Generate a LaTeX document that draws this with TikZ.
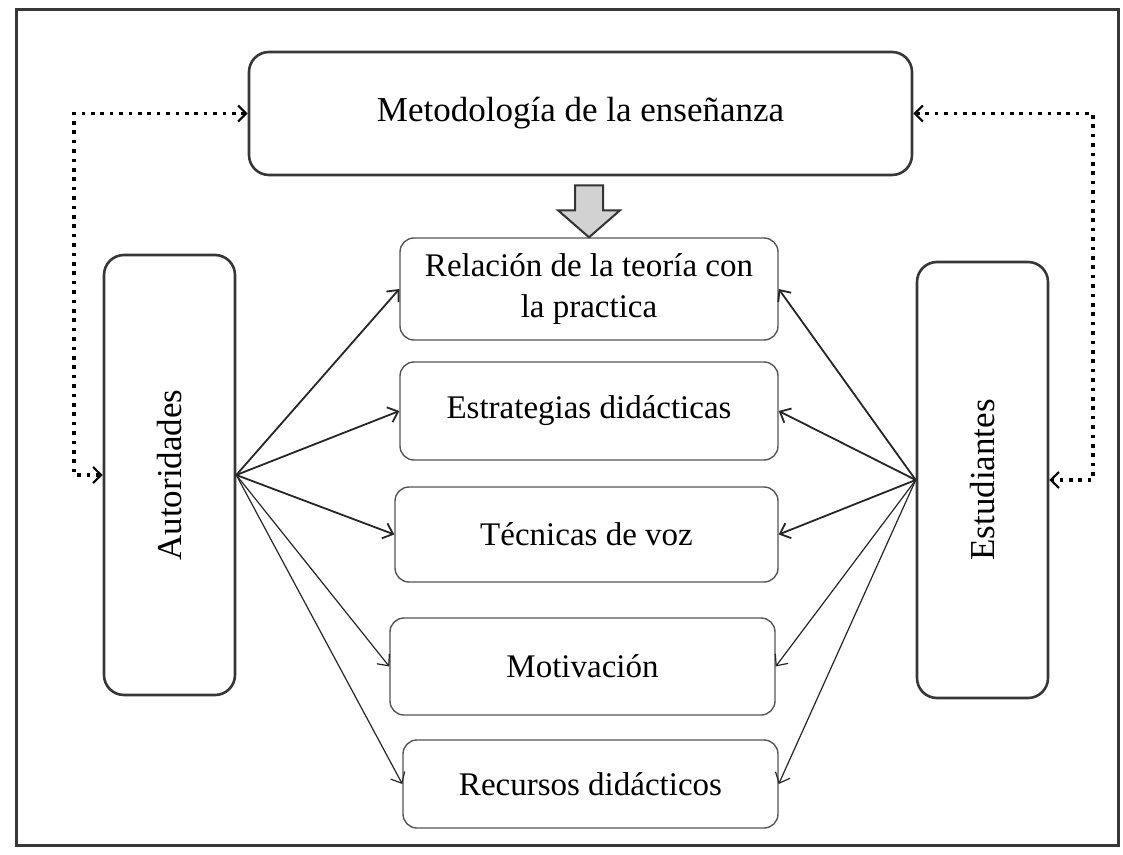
\documentclass[tikz,border=0pt]{standalone}
\usepackage{fontspec}
\setmainfont{Liberation Serif}
\usetikzlibrary{arrows.meta,positioning,calc}
\definecolor{boxgray}{RGB}{55,55,55}

\begin{document}
\begin{tikzpicture}[x=0.5pt, y=-0.5pt, >={Straight Barb[length=4.5pt,width=8pt]},
	mainbox/.style={draw=boxgray, line width=1.3pt, rounded corners=10pt, align=center, inner sep=0pt},
	itembox/.style={draw=boxgray!85, line width=0.7pt, rounded corners=7pt, align=center, inner sep=0pt, font=\fontsize{16.5}{20.5}\selectfont},
	linkLine/.style={line width=0.9pt, ->, color=black!85},
	dotLine/.style={line width=1.6pt, dash pattern=on 1.8pt off 2.9pt, {Straight Barb[length=4pt,width=8pt,line width=1.1pt]}-{Straight Barb[length=4pt,width=8pt,line width=1.1pt]}},
	blockArrow/.style={draw=black!80, line width=1pt, fill=gray!35, line join=miter}
	]
	\useasboundingbox (0,0) rectangle (1123,855);
	\draw[line width=1.5pt, boxgray] (16,10) rectangle (1118,845);

	\node[mainbox, minimum width=331.5pt, minimum height=61.5pt, font=\fontsize{17.5}{21}\selectfont] (meto) at (580.5,113.5) {Metodología de la enseñanza};
	\node[mainbox, minimum width=65.5pt, minimum height=220pt] (aut) at (169.5,475) {};
	\node[rotate=90, font=\fontsize{17.5}{21}\selectfont] (autT) at (aut.center) {Autoridades};
	\node[mainbox, minimum width=65.5pt, minimum height=218pt] (est) at (982.5,480) {};
	\node[rotate=90, font=\fontsize{17.5}{21}\selectfont] (estT) at (est.center) {Estudiantes};

	\node[itembox, minimum width=189pt, minimum height=51pt] (rel) at (589,289) {Relación de la teoría con\\la practica};
	\node[itembox, minimum width=189pt, minimum height=49pt] (estr) at (589,411) {Estrategias didácticas};
	\node[itembox, minimum width=191.5pt, minimum height=47.5pt] (tec) at (586.5,534.5) {Técnicas de voz};
	\node[itembox, minimum width=192.5pt, minimum height=48.5pt] (mot) at (582.5,666.5) {Motivación};
	\node[itembox, minimum width=187.5pt, minimum height=44pt] (rec) at (590.5,784) {Recursos didácticos};

	\draw[blockArrow] (rel.north) -- ++(-31,-27) -- ++(17,0) -- ++(0,-25) -- ++(28,0) -- ++(0,25) -- ++(17,0) -- cycle;

	\coordinate (lx) at (74,0);
	\coordinate (rx) at (1093,0);
	\draw[dotLine] (meto.west) -- (meto.west -| lx) |- (aut.west);
	\draw[dotLine] (meto.east) -- (meto.east -| rx) |- (est.east);

	\foreach \t in {rel,estr,tec}{
		\draw[linkLine] (aut.east) -- (\t.west);
		\draw[linkLine] (est.west) -- (\t.east);
	}
	\foreach \t in {mot,rec}{
		\draw[linkLine, line width=0.6pt] (aut.east) -- (\t.west);
		\draw[linkLine, line width=0.6pt] (est.west) -- (\t.east);
	}
\end{tikzpicture}
\end{document}
